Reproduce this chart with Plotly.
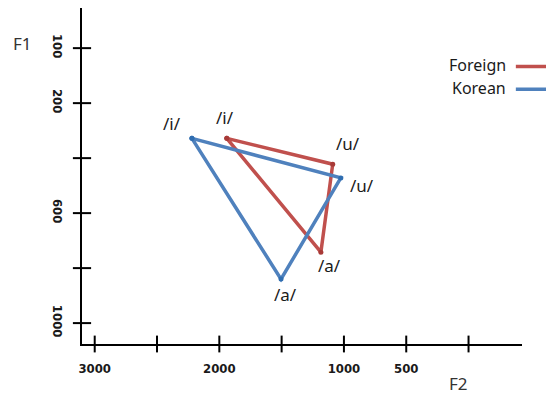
import plotly.graph_objects as go

# ---- data ----
vowels = ["/i/", "/u/", "/a/"]
# F2 in Hz (x axis, reversed)
foreign_f2 = [1940, 1090, 1185]
korean_f2 = [2220, 1025, 1505]
# F1 in schematic tick-step units (0 = "100", 1 = "200", 3 = "600", 5 = "1000")
foreign_f1 = [1.64, 2.11, 3.71]
korean_f1 = [1.64, 2.36, 4.20]

x_tick_marks = [3000, 2500, 2000, 1500, 1000, 500, 0]
x_tick_labels_vals = [3000, 2000, 1000, 500]
x_tick_labels = ["3000", "2000", "1000", "500"]
y_tick_marks = [0, 1, 2, 3, 4, 5]
y_tick_labels = ["100", "200", "", "600", "", "1000"]

# ---- styling ----
x_range = [3102, -429]
y_range = [5.38, -0.73]
RED = "#c0504d"
BLUE = "#4f81bd"
TXT = "#1a1a1a"
FONT = "Noto Sans"
TICKFONT = "Liberation Sans Narrow, DejaVu Sans Condensed, sans-serif"

fig = go.Figure()


def closed(v):
    return list(v) + [v[0]]


fig.add_trace(go.Scatter(x=closed(foreign_f2), y=closed(foreign_f1), mode="lines+markers",
                         line=dict(color=RED, width=3.5), marker=dict(size=5, color="#a83a37"),
                         cliponaxis=False, showlegend=False, hoverinfo="skip"))
fig.add_trace(go.Scatter(x=closed(korean_f2), y=closed(korean_f1), mode="lines+markers",
                         line=dict(color=BLUE, width=3.5), marker=dict(size=5, color="#2f6db0"),
                         cliponaxis=False, showlegend=False, hoverinfo="skip"))

# tick marks crossing the axis lines
fig.add_trace(go.Scatter(x=[x_range[0]] * len(y_tick_marks), y=y_tick_marks, mode="markers",
                         marker=dict(symbol="line-ew", size=13, line=dict(color="black", width=2)),
                         cliponaxis=False, showlegend=False, hoverinfo="skip"))
fig.add_trace(go.Scatter(x=x_tick_marks, y=[y_range[0]] * len(x_tick_marks), mode="markers",
                         marker=dict(symbol="line-ns", size=12, line=dict(color="black", width=2)),
                         cliponaxis=False, showlegend=False, hoverinfo="skip"))

# vowel labels
foreign_shift = [(-2, 21), (15, 21), (9, -13)]
korean_shift = [(-20, 15), (21, -8), (4, -15)]
for f2s, f1s, shifts in [(foreign_f2, foreign_f1, foreign_shift), (korean_f2, korean_f1, korean_shift)]:
    for v, x, y, (dx, dy) in zip(vowels, f2s, f1s, shifts):
        fig.add_annotation(x=x, y=y, text=v, showarrow=False, xshift=dx, yshift=dy,
                           font=dict(family=FONT, size=17, color=TXT))

# axis titles
fig.add_annotation(x=-0.136, y=0.893, xref="paper", yref="paper", text="F1", showarrow=False,
                   xanchor="center", yanchor="middle",
                   font=dict(family=FONT, size=17, color="#333333"))
fig.add_annotation(x=0.855, y=-0.117, xref="paper", yref="paper", text="F2", showarrow=False,
                   xanchor="center", yanchor="middle",
                   font=dict(family=FONT, size=17, color="#333333"))

# custom legend (text left, line sample right)
for i, (name, col) in enumerate([("Foreign", RED), ("Korean", BLUE)]):
    yp = 0.830 - i * 0.068
    fig.add_annotation(x=0.968, y=yp, xref="paper", yref="paper", text=name, showarrow=False,
                       xanchor="right", yanchor="middle",
                       font=dict(family=FONT, size=16, color=TXT))
    fig.add_shape(type="line", xref="paper", yref="paper", x0=0.986, x1=1.064, y0=yp - 0.004, y1=yp - 0.004,
                  line=dict(color=col, width=3.5))

fig.update_xaxes(range=x_range, showgrid=False, zeroline=False, showline=True, linecolor="black",
                 linewidth=2, ticks="", tickvals=x_tick_labels_vals, ticktext=x_tick_labels,
                 ticklabelstandoff=11, automargin=False,
                 tickfont=dict(family=TICKFONT, size=13, color=TXT, weight="bold"))
fig.update_yaxes(range=y_range, showgrid=False, zeroline=False, showline=True, linecolor="black",
                 linewidth=2, ticks="", tickvals=y_tick_marks, ticktext=y_tick_labels,
                 tickangle=90, ticklabelstandoff=11, automargin=False,
                 tickfont=dict(family=TICKFONT, size=13, color=TXT, weight="bold"))

# page body has an 8px margin, so the figure is sized/offset to compensate
fig.update_layout(width=546, height=390, margin=dict(l=74, r=32, t=0, b=54, autoexpand=False),
                  paper_bgcolor="white", plot_bgcolor="white", showlegend=False,
                  hovermode=False)

fig.write_html("out.html")
